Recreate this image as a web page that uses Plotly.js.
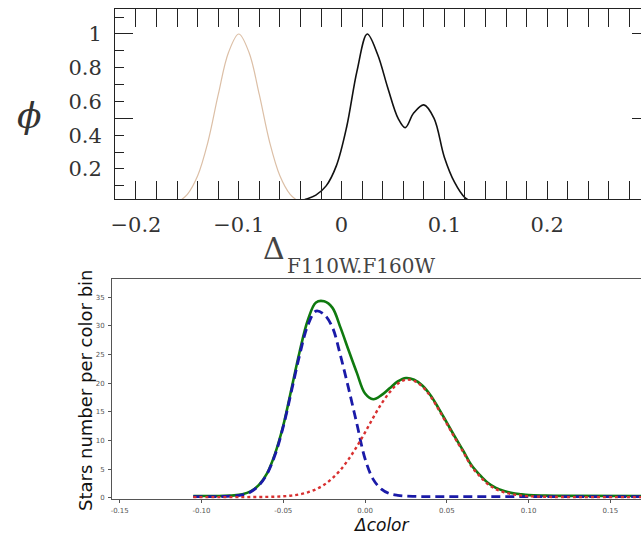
<!DOCTYPE html>
<html>
<head>
<meta charset="utf-8">
<script src="https://cdn.plot.ly/plotly-3.0.1.min.js"></script>
<style>html,body{margin:0;padding:0;background:#fff;}#chart{width:641px;height:534px;}</style>
</head>
<body>
<div id="chart"></div>
<script>
// ---- Top panel data ----
const topTanX = [-0.160, -0.150, -0.140, -0.130, -0.120, -0.110, -0.100, -0.090, -0.080, -0.070, -0.060, -0.050, -0.040];
const topTanY = [0.0, 0.05, 0.16, 0.36, 0.64, 0.89, 1.00, 0.89, 0.64, 0.36, 0.16, 0.05, 0.0];
const topBlackX = [-0.045, -0.035, -0.025, -0.015, -0.005, 0.005, 0.015, 0.025, 0.035, 0.045, 0.055, 0.062, 0.070, 0.080, 0.090, 0.100, 0.110, 0.120, 0.130];
const topBlackY = [0.0, 0.02, 0.045, 0.10, 0.22, 0.45, 0.78, 1.0, 0.88, 0.68, 0.50, 0.445, 0.53, 0.58, 0.50, 0.27, 0.12, 0.03, 0.0];
const topXTicks = [-0.2, -0.1, 0, 0.1, 0.2];
const topXTickText = ['\u22120.2', '\u22120.1', '0', '0.1', '0.2'];
const topYTicks = [0.2, 0.4, 0.6, 0.8, 1];
const topYTickText = ['0.2', '0.4', '0.6', '0.8', '1'];
const topYMajor = [0.5, 1];

// ---- Bottom panel data ----
const colorX = [-0.105, -0.09, -0.08, -0.075, -0.07, -0.065, -0.06, -0.055, -0.05, -0.045, -0.04, -0.035, -0.03, -0.025, -0.02, -0.015, -0.01, -0.005, 0, 0.005, 0.01, 0.015, 0.02, 0.025, 0.03, 0.035, 0.04, 0.045, 0.05, 0.055, 0.06, 0.065, 0.07, 0.075, 0.08, 0.085, 0.09, 0.095, 0.1, 0.11, 0.12, 0.17];
const blueY = [0.2, 0.2, 0.3, 0.5, 1.0, 2.1, 4.1, 7.5, 12.4, 18.6, 24.9, 30.1, 32.6, 32.0, 29.8, 24.8, 19.0, 12.9, 6.8, 3.2, 1.5, 0.7, 0.4, 0.27, 0.22, 0.2, 0.2, 0.2, 0.2, 0.2, 0.2, 0.2, 0.2, 0.2, 0.2, 0.2, 0.2, 0.2, 0.2, 0.2, 0.2, 0.2];
const redY = [0.1, 0.1, 0.1, 0.1, 0.11, 0.12, 0.14, 0.18, 0.24, 0.37, 0.58, 0.93, 1.46, 2.26, 3.39, 4.86, 6.74, 8.94, 11.4, 14.0, 16.4, 18.4, 19.9, 20.6, 20.4, 19.4, 17.7, 15.4, 12.9, 10.4, 8.0, 5.5, 3.8, 2.4, 1.5, 0.95, 0.6, 0.4, 0.25, 0.16, 0.11, 0.1];
const greenY = [0.3, 0.3, 0.4, 0.6, 1.1, 2.2, 4.2, 7.7, 12.6, 19.0, 25.5, 31.0, 34.1, 34.3, 33.2, 29.7, 25.7, 21.8, 18.2, 17.2, 17.9, 19.1, 20.3, 20.9, 20.6, 19.6, 17.9, 15.6, 13.1, 10.6, 8.2, 5.7, 4.0, 2.6, 1.7, 1.15, 0.8, 0.6, 0.45, 0.36, 0.31, 0.3];
const botXTicks = [-0.15, -0.10, -0.05, 0.00, 0.05, 0.10, 0.15];
const botXTickText = ['-0.15', '-0.10', '-0.05', '0.00', '0.05', '0.10', '0.15'];
const botYTicks = [0, 5, 10, 15, 20, 25, 30, 35];

const W = 641, H = 534;
const px = v => v / W;
const py = v => 1 - v / H;

const serif = 'DejaVu Serif';
const sans = 'DejaVu Sans';

const traces = [
  {x: topTanX, y: topTanY, xaxis: 'x', yaxis: 'y', mode: 'lines', line: {color: '#dcbfa6', width: 1.2, shape: 'spline'}, hoverinfo: 'skip'},
  {x: topBlackX, y: topBlackY, xaxis: 'x', yaxis: 'y', mode: 'lines', line: {color: '#111', width: 1.6, shape: 'spline'}, hoverinfo: 'skip'},
  {x: [], y: [], xaxis: 'x', yaxis: 'y3'},
  {x: [], y: [], xaxis: 'x', yaxis: 'y4'},
  {x: colorX, y: greenY, xaxis: 'x2', yaxis: 'y2', mode: 'lines', line: {color: '#0f7a0f', width: 2.6, shape: 'spline'}, hoverinfo: 'skip'},
  {x: colorX, y: blueY, xaxis: 'x2', yaxis: 'y2', mode: 'lines', line: {color: '#1a1aa8', width: 2.8, dash: '9px,5px', shape: 'spline'}, hoverinfo: 'skip'},
  {x: colorX, y: redY, xaxis: 'x2', yaxis: 'y2', mode: 'lines', line: {color: '#d83030', width: 2.4, dash: 'dot', shape: 'spline'}, hoverinfo: 'skip'}
];

const topYRange = [0.0222, 1.148];

const layout = {
  width: W, height: H,
  margin: {l: 0, r: 0, t: 0, b: 0},
  paper_bgcolor: '#fff', plot_bgcolor: 'rgba(0,0,0,0)',
  showlegend: false,
  xaxis: {
    domain: [px(115), 1], anchor: 'y', range: [-0.2204, 0.2913],
    tickvals: topXTicks, ticktext: topXTickText,
    ticks: 'inside', ticklen: 18, tickwidth: 1, tickcolor: '#222',
    minor: {dtick: 0.02, tick0: 0, ticks: 'inside', ticklen: 9, tickwidth: 1, tickcolor: '#222'},
    showline: true, linecolor: '#222', linewidth: 1, mirror: 'allticks',
    showgrid: false, zeroline: false,
    tickfont: {family: serif, size: 21, color: '#333'}, ticklabelstandoff: 7
  },
  yaxis: {
    domain: [py(199), py(9)], anchor: 'x', range: topYRange,
    tickvals: topYTicks, ticktext: topYTickText,
    ticks: 'inside', ticklen: 9, tickwidth: 1, tickcolor: '#222',
    minor: {dtick: 0.1, tick0: 0, ticks: 'inside', ticklen: 9, tickwidth: 1, tickcolor: '#222'},
    showline: true, linecolor: '#222', linewidth: 1,
    showgrid: false, zeroline: false,
    tickfont: {family: serif, size: 21, color: '#333'}, ticklabelstandoff: 8
  },
  yaxis3: {
    overlaying: 'y', anchor: 'x', range: topYRange,
    tickvals: topYMajor, ticks: 'inside', ticklen: 18, tickwidth: 1, tickcolor: '#222',
    showticklabels: false, showline: false, showgrid: false, zeroline: false
  },
  yaxis4: {
    overlaying: 'y', anchor: 'x', side: 'right', range: topYRange,
    tickvals: topYMajor, ticks: 'inside', ticklen: 9, tickwidth: 1, tickcolor: '#222',
    showticklabels: false, showline: false, showgrid: false, zeroline: false
  },
  xaxis2: {
    domain: [px(112), 1], anchor: 'y2', range: [-0.1547, 0.1687],
    tickvals: botXTicks, ticktext: botXTickText,
    ticks: 'outside', ticklen: 3, tickwidth: 1, tickcolor: '#555',
    showline: true, linecolor: '#555', linewidth: 1, mirror: true,
    showgrid: false, zeroline: false,
    tickfont: {family: sans, size: 7, color: '#555'}, ticklabelstandoff: 2
  },
  yaxis2: {
    domain: [py(499), py(279)], anchor: 'x2', range: [-0.23, 38.2],
    tickvals: botYTicks,
    ticks: 'outside', ticklen: 3, tickwidth: 1, tickcolor: '#555',
    showline: true, linecolor: '#555', linewidth: 1,
    showgrid: false, zeroline: false,
    tickfont: {family: sans, size: 7, color: '#555'}, ticklabelstandoff: 2
  },
  annotations: [
    {text: '\u03D5', xref: 'paper', yref: 'paper', x: px(29), y: py(116), xanchor: 'center', yanchor: 'middle', textangle: 0, showarrow: false,
     font: {family: serif, size: 36, color: '#333', style: 'italic'}},
    {text: '\u0394', xref: 'paper', yref: 'paper', x: px(274), y: py(249), xanchor: 'center', yanchor: 'middle', showarrow: false,
     font: {family: serif, size: 30, color: '#444'}},
    {text: 'F110W.F160W', xref: 'paper', yref: 'paper', x: px(285), y: py(266), xanchor: 'left', yanchor: 'middle', showarrow: false,
     font: {family: serif, size: 20, color: '#444'}},
    {text: 'Stars number per color bin', xref: 'paper', yref: 'paper', x: px(85), y: py(390), xanchor: 'center', yanchor: 'middle', textangle: -90, showarrow: false,
     font: {family: sans, size: 18, color: '#111'}},
    {text: '\u0394color', xref: 'paper', yref: 'paper', x: px(381), y: py(525), xanchor: 'center', yanchor: 'middle', showarrow: false,
     font: {family: sans, size: 17, color: '#111', style: 'italic'}}
  ]
};

Plotly.newPlot('chart', traces, layout, {staticPlot: true, displayModeBar: false});
</script>
</body>
</html>
